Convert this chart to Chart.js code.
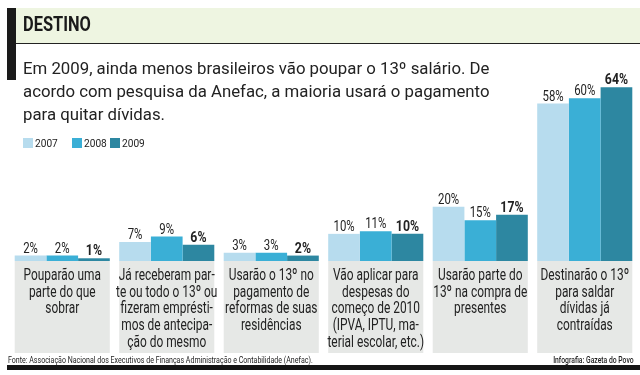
<!DOCTYPE html>
<html>
<head>
<meta charset="utf-8">
<script src="https://cdn.jsdelivr.net/npm/chart.js@4/dist/chart.umd.min.js"></script>
<style>
  html,body{margin:0;padding:0;background:#fff;}
  body{width:640px;height:375px;position:relative;overflow:hidden;font-family:Roboto,"Open Sans",sans-serif;}
  #c{position:absolute;left:0;top:0;}
  .abs{position:absolute;white-space:nowrap;}
  #bar{left:7px;top:8px;width:9px;height:72px;background:#1a1a1a;}
  #head{left:16px;top:8px;width:624px;height:35px;background:#eef5e1;border-bottom:1.5px solid #222;}
  #title{left:23px;top:12px;font-weight:bold;font-size:20px;color:#1a1a1a;transform:scaleX(0.82);transform-origin:0 0;}
  #sub{left:23px;top:57px;width:480px;white-space:normal;font-size:16.8px;line-height:23px;color:#222;}
  #legend{left:23px;top:136px;font-size:11.5px;color:#222;}
  #legend span.it{position:absolute;top:0;display:flex;align-items:center;}
  #legend i{display:inline-block;width:10px;height:10px;margin-right:2px;}
  #legend b{font-weight:normal;display:inline-block;transform:scaleX(0.88);transform-origin:0 50%;}
  #fonte{left:8px;top:355px;font-size:8.5px;color:#222;transform:scaleX(0.83);transform-origin:0 0;}
  #info{right:6px;top:355px;font-size:8.5px;color:#222;font-weight:500;transform:scaleX(0.8);transform-origin:100% 0;}
  #line{left:7px;top:365px;width:633px;height:5px;background:#151515;}
</style>
</head>
<body>
<canvas id="c" width="640" height="375"></canvas>
<div class="abs" id="head"></div>
<div class="abs" id="bar"></div>
<div class="abs" id="title">DESTINO</div>
<div class="abs" id="sub">Em 2009, ainda menos brasileiros vão poupar o 13º salário. De acordo com pesquisa da Anefac, a maioria usará o pagamento para quitar dívidas.</div>
<div class="abs" id="legend"></div>
<div class="abs" id="fonte">Fonte: Associação Nacional dos Executivos de Finanças Administração e Contabilidade (Anefac).</div>
<div class="abs" id="info">Infografia: Gazeta do Povo</div>
<div class="abs" id="line"></div>
<script>
const categories = [
  ["Pouparão uma","parte do que","sobrar"],
  ["Já receberam par-","te ou todo o 13º ou","fizeram emprésti-","mos de antecipa-","ção do mesmo"],
  ["Usarão o 13º no","pagamento de","reformas de suas","residências"],
  ["Vão aplicar para","despesas do","começo de 2010","(IPVA, IPTU, ma-","terial escolar, etc.)"],
  ["Usarão parte do","13º na compra de","presentes"],
  ["Destinarão o 13º","para saldar","dívidas já","contraídas"]
];
const seriesNames = ["2007","2008","2009"];
const values2007 = [2, 7, 3, 10, 20, 58];
const values2008 = [2, 9, 3, 11, 15, 60];
const values2009 = [1, 6, 2, 10, 17, 64];
const colors = ["#b7dcee","#3aafd6","#2d87a1"];

const FONT = 'Roboto, "Open Sans", sans-serif';

// legend
const lg = document.getElementById('legend');
const legendX = [0, 49, 87];
seriesNames.forEach((n,i)=>{
  const s=document.createElement('span'); s.className='it'; s.style.left=legendX[i]+'px';
  const b=document.createElement('i'); b.style.background=colors[i];
  const t=document.createElement('b'); t.textContent=n;
  s.appendChild(b); s.appendChild(t); lg.appendChild(s);
});

const boxPlugin = {
  id:'boxes',
  beforeDraw(chart){
    const {ctx, chartArea, scales:{x}} = chart;
    const w = (chartArea.right-chartArea.left)/categories.length*0.91;
    ctx.save();
    ctx.fillStyle = '#e6e8e6';
    categories.forEach((c,i)=>{
      const cx = x.getPixelForValue(i);
      ctx.fillRect(cx-w/2, chartArea.bottom, w, 353-chartArea.bottom);
    });
    ctx.restore();
  },
  afterDraw(chart){
    const {ctx, chartArea, scales:{x}} = chart;
    ctx.save();
    ctx.fillStyle='#222'; ctx.textAlign='center'; ctx.textBaseline='alphabetic';
    ctx.font = '17px '+FONT;
    categories.forEach((lines,i)=>{
      const cx = x.getPixelForValue(i);
      lines.forEach((ln,j)=>{
        ctx.save();
        ctx.translate(cx, chartArea.bottom + 19 + j*16.7);
        ctx.scale(0.7,1);
        ctx.fillText(ln,0,0);
        ctx.restore();
      });
    });
    ctx.restore();
  }
};
const valuePlugin = {
  id:'vals',
  afterDatasetsDraw(chart){
    const ctx = chart.ctx;
    ctx.save();
    ctx.textAlign='center'; ctx.textBaseline='alphabetic'; ctx.fillStyle='#222';
    chart.data.datasets.forEach((ds,di)=>{
      const meta = chart.getDatasetMeta(di);
      ctx.font = (di===2?'bold ':'')+'15px '+FONT;
      meta.data.forEach((bar,i)=>{
        ctx.save();
        ctx.translate(bar.x, bar.y-3);
        ctx.scale(di===2?0.82:0.76,1);
        ctx.fillText(ds.data[i]+'%', 0, 0);
        ctx.restore();
      });
    });
    ctx.restore();
  }
};

new Chart(document.getElementById('c'),{
  type:'bar',
  data:{
    labels: categories.map(c=>c.join(' ')),
    datasets:[
      {label:seriesNames[0], data:values2007, backgroundColor:colors[0]},
      {label:seriesNames[1], data:values2008, backgroundColor:colors[1]},
      {label:seriesNames[2], data:values2009, backgroundColor:colors[2]}
    ]
  },
  options:{
    responsive:false, animation:false, devicePixelRatio:1,
    layout:{padding:{top:71,left:10,right:3,bottom:0}},
    datasets:{bar:{categoryPercentage:0.91,barPercentage:1,borderWidth:0}},
    plugins:{legend:{display:false},tooltip:{enabled:false}},
    scales:{
      x:{
        grid:{display:false}, border:{display:false},
        ticks:{display:false},
        afterFit(scale){ scale.height = 114; }
      },
      y:{display:false, min:0, max:70}
    }
  },
  plugins:[boxPlugin, valuePlugin]
});
</script>
</body>
</html>
